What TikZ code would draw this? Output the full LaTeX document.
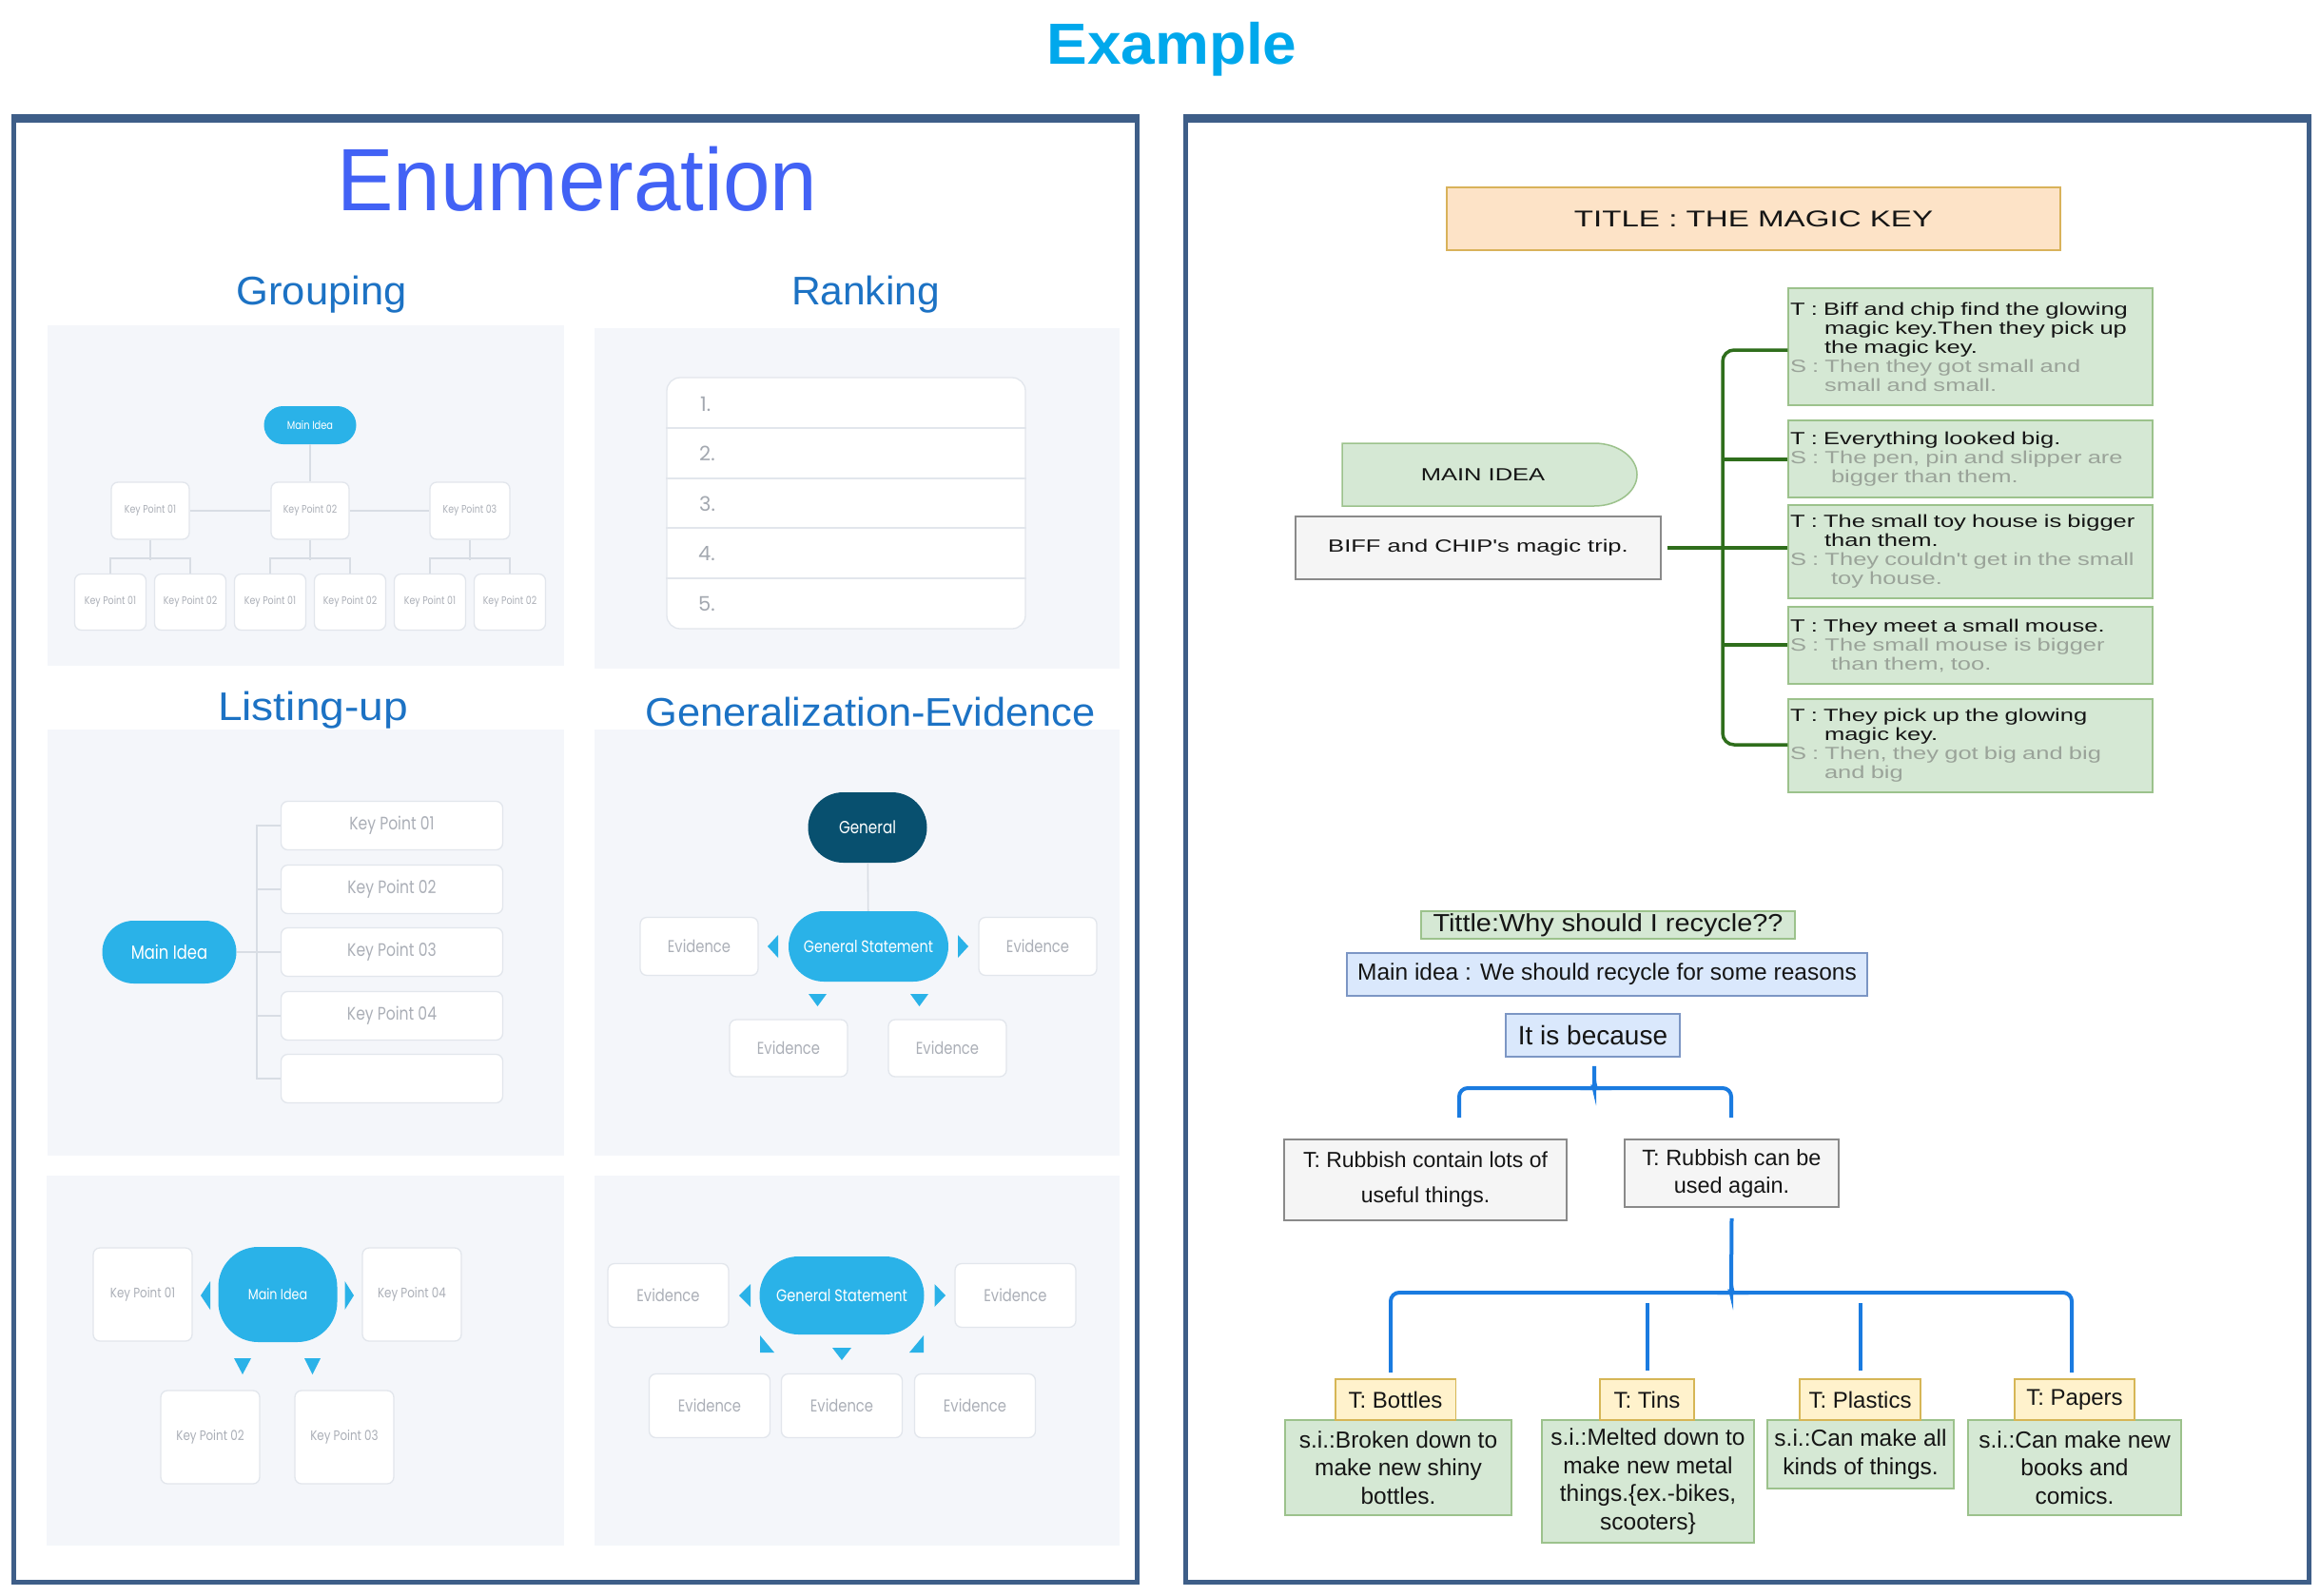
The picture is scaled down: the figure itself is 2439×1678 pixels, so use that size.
\documentclass[tikz,border=0pt]{standalone}
\usepackage{fontspec}
\usepackage{graphicx}
\setmainfont{Liberation Sans}
\newfontfamily\tplf{Poppins}[FakeStretch=0.82]
\newfontfamily\tpln{Poppins}
\newfontfamily\mkf{Liberation Sans}[FakeStretch=1.38]
\usetikzlibrary{calc}
\definecolor{framec}{HTML}{3E5E88}
\definecolor{exblue}{HTML}{00A8EC}
\definecolor{enblue}{HTML}{4262F5}
\definecolor{subblue}{HTML}{1C72C4}
\definecolor{panel}{HTML}{F4F6FA}
\definecolor{tline}{HTML}{E2E6EC}
\definecolor{ttext}{HTML}{ABAFB7}
\definecolor{numgray}{HTML}{A3A8B0}
\definecolor{cyanp}{HTML}{2AB2E8}
\definecolor{darkp}{HTML}{08506F}
\definecolor{conn}{HTML}{D8DDE4}
\definecolor{peach}{HTML}{FDE3C7}
\definecolor{peachb}{HTML}{D9B25A}
\definecolor{gfill}{HTML}{D5E8D4}
\definecolor{gline}{HTML}{9CC28C}
\definecolor{mgreen}{HTML}{2F6E1C}
\definecolor{sgray}{HTML}{9AA399}
\definecolor{bfill}{HTML}{DAE8FC}
\definecolor{bline}{HTML}{7C96C4}
\definecolor{gyfill}{HTML}{F5F5F5}
\definecolor{gyline}{HTML}{8A8A8A}
\definecolor{yfill}{HTML}{FFF2CC}
\definecolor{yline}{HTML}{D6B656}
\definecolor{rblue}{HTML}{1A7BE0}
\definecolor{ink}{HTML}{151515}
\newcommand\fitto[2]{\resizebox{#1}{\height}{#2}}
\newcommand\fs[2]{\fontsize{#1}{#2}\selectfont}
\begin{document}
\begin{tikzpicture}[x=1pt,y=-1pt,
  sz/.style 2 args={minimum width=#1pt, minimum height=#2pt},
  tb/.style={draw=tline, fill=white, rounded corners=7pt, line width=1.3pt, inner sep=0pt, text=ttext},
  pl/.style={fill=cyanp, rounded corners=#1, inner sep=0pt, text=white},
  cn/.style={draw=conn, line width=1.6pt},
  ttl/.style={anchor=base, text=subblue, font=\fs{42}{44}, inner sep=0pt},
  gbox/.style={draw=gline, fill=gfill, line width=1.5pt},
  mk/.style={font=\mkf\fs{18.5}{20}, text=ink},
  rc/.style={font=\fs{24}{28}, text=ink, inner sep=0pt},
  rb/.style={draw=rblue, line width=4pt, rounded corners=9pt},
  mg/.style={draw=mgreen, line width=3.5pt}
]
\useasboundingbox (0,0) rectangle (2439,1678);
\fill[white] (0,0) rectangle (2439,1678);

% ---------- header ----------
\node[anchor=base, text=exblue, font=\bfseries\fs{61}{61}, inner sep=0pt] (ex) at (1232,67) {\fitto{263pt}{Example}};

% ---------- frames ----------
\draw[framec, line width=5pt] (14.5,123.5) rectangle (1195.5,1663.5);
\fill[framec] (12,120) rectangle (1198,129);
\draw[framec, line width=5pt] (1246.5,123.5) rectangle (2427.5,1663.5);
\fill[framec] (1244,120) rectangle (2430,129);

% ---------- left titles ----------
\node[anchor=base, text=enblue, font=\fs{93}{93}, inner sep=0pt] (enum) at (607,221) {\fitto{505pt}{Enumeration}};
\node[ttl] (tgroup) at (338,320) {\fitto{179pt}{Grouping}};
\node[ttl] (trank) at (910,320) {\fitto{156pt}{Ranking}};
\node[ttl] (tlist) at (329,757) {\fitto{200pt}{Listing-up}};
\node[ttl] (tgen) at (915,763) {\fitto{473pt}{Generalization-Evidence}};

% ---------- Grouping ----------
\fill[panel] (50,342) rectangle (593,700);
\node[pl=20pt, sz={97}{40}, font=\tplf\fs{12}{14}] (gmain) at (326,447) {Main Idea};
\begin{scope}[every node/.style={tb, font=\tplf\fs{11.5}{13}}]
\node[sz={82}{60}] (gk1) at (158,537) {Key Point 01};
\node[sz={82}{60}] (gk2) at (326,537) {Key Point 02};
\node[sz={84}{60}] (gk3) at (494,537) {Key Point 03};
\node[sz={75}{59}] (gl1) at (116,633) {Key Point 01};
\node[sz={75}{59}] (gl2) at (200,633) {Key Point 02};
\node[sz={75}{59}] (gl3) at (284,633) {Key Point 01};
\node[sz={75}{59}] (gl4) at (368,633) {Key Point 02};
\node[sz={75}{59}] (gl5) at (452,633) {Key Point 01};
\node[sz={75}{59}] (gl6) at (536,633) {Key Point 02};
\end{scope}
\draw[cn] (gmain) -- (gk2);
\draw[cn] (gk1) -- (gk2);
\draw[cn] (gk2) -- (gk3);
\draw[cn] (gk1.south) -- ++(0,21);
\draw[cn] (gk2.south) -- ++(0,21);
\draw[cn] (gk3.south) -- ++(0,21);
\draw[cn] (gl1.north) -- ++(0,-16) -| (gl2.north);
\draw[cn] (gl3.north) -- ++(0,-16) -| (gl4.north);
\draw[cn] (gl5.north) -- ++(0,-16) -| (gl6.north);

% ---------- Ranking ----------
\fill[panel] (625,345) rectangle (1177,703);
\node[tb, rounded corners=14pt, sz={377}{264}] (rlist) at (889.5,529) {};
\foreach \yy in {450,503,555,608} \draw[tline, line width=1.3pt] (rlist.west |- 0,\yy) -- (rlist.east |- 0,\yy);
\begin{scope}[every node/.style={anchor=west, text=numgray, font=\tpln\fs{21}{22}, inner sep=0pt}]
\node (r1) at (736,425) {1.};
\node (r2) at (735,477) {2.};
\node (r3) at (735,530) {3.};
\node (r4) at (734,582) {4.};
\node (r5) at (734,635) {5.};
\end{scope}

% ---------- Listing-up ----------
\fill[panel] (50,767) rectangle (593,1215);
\node[pl=33pt, sz={141}{66}, font=\tplf\fs{20}{22}] (lmain) at (178,1001) {Main Idea};
\begin{scope}[every node/.style={tb, sz={233}{51}, font=\tplf\fs{19}{21}}]
\node (lk1) at (412,868) {Key Point 01};
\node (lk2) at (412,935) {Key Point 02};
\node (lk3) at (412,1001) {Key Point 03};
\node (lk4) at (412,1068) {Key Point 04};
\node (lk5) at (412,1134) {};
\end{scope}
\coordinate (ltop) at (270,868);
\coordinate (lbot) at (270,1134);
\draw[cn] (lk1.west) -- (ltop) -- (lbot) -- (lk5.west);
\draw[cn] (lk2.west) -- (lk2.west -| ltop);
\draw[cn] (lk4.west) -- (lk4.west -| ltop);
\draw[cn] (lmain.east) -- (lk3.west);

% ---------- Generalization-Evidence ----------
\fill[panel] (625,767) rectangle (1177,1215);
\node[pl=37pt, fill=darkp, sz={125}{74}, font=\tplf\fs{18.5}{20}] (gen) at (912,870) {General};
\node[pl=37pt, sz={168}{74}, font=\tplf\fs{17.5}{20}] (gst) at (913,995) {General Statement};
\begin{scope}[every node/.style={tb, font=\tplf\fs{18}{20}}]
\node[sz={124}{61}] (ge1) at (735,995) {Evidence};
\node[sz={124}{61}] (ge2) at (1091,995) {Evidence};
\node[sz={124}{60}] (ge3) at (829,1102) {Evidence};
\node[sz={124}{60}] (ge4) at (996,1102) {Evidence};
\end{scope}
\draw[cn] (gen) -- (gst);
\fill[cyanp] (818,983) -- (818,1007) -- (807,995) -- cycle;
\fill[cyanp] (1007,983) -- (1007,1007) -- (1018,995) -- cycle;
\fill[cyanp] (850,1045) -- (869,1045) -- (859.5,1058) -- cycle;
\fill[cyanp] (957,1045) -- (976,1045) -- (966.5,1058) -- cycle;

% ---------- bottom-left ----------
\fill[panel] (49,1236) rectangle (593,1625);
\node[pl=42pt, sz={125}{100}, font=\tplf\fs{15.5}{18}] (bmain) at (292,1361) {Main Idea};
\begin{scope}[every node/.style={tb, sz={104}{98}, font=\tplf\fs{14.5}{17}}]
\node (bk1) at (150,1361) {Key Point 01};
\node (bk4) at (433,1361) {Key Point 04};
\node (bk2) at (221,1511) {Key Point 02};
\node (bk3) at (362,1511) {Key Point 03};
\end{scope}
\fill[cyanp] (221,1347) -- (221,1377) -- (211,1362) -- cycle;
\fill[cyanp] (362.5,1347) -- (362.5,1377) -- (372,1362) -- cycle;
\fill[cyanp] (246,1428) -- (264,1428) -- (255,1445) -- cycle;
\fill[cyanp] (320,1428) -- (337,1428) -- (328.5,1445) -- cycle;

% ---------- bottom-right ----------
\fill[panel] (625,1236) rectangle (1177,1625);
\node[pl=41pt, sz={173}{82}, font=\tplf\fs{17.7}{20}] (bgs) at (885,1362) {General Statement};
\begin{scope}[every node/.style={tb, sz={127}{67}, font=\tplf\fs{18}{20}}]
\node (be1) at (702.5,1362) {Evidence};
\node (be2) at (1067.5,1362) {Evidence};
\node (be3) at (746,1478) {Evidence};
\node (be4) at (885,1478) {Evidence};
\node (be5) at (1025,1478) {Evidence};
\end{scope}
\fill[cyanp] (789,1350) -- (789,1374) -- (777,1362) -- cycle;
\fill[cyanp] (982.5,1350) -- (982.5,1374) -- (994,1362) -- cycle;
\fill[cyanp] (875,1417) -- (895,1417) -- (885,1430) -- cycle;
\fill[cyanp] (799,1404) -- (799,1422) -- (814,1422) -- cycle;
\fill[cyanp] (971,1404) -- (971,1422) -- (956,1422) -- cycle;

% ---------- Magic key chart ----------
\node[draw=peachb, fill=peach, line width=1.5pt, sz={645}{66}, mk, font=\mkf\fs{24}{26}] (mtitle) at (1843.5,230) {TITLE : THE MAGIC KEY};
\filldraw[fill=gfill, draw=gline, line width=1.5pt] (1411,466) -- (1676,466) arc[start angle=90, end angle=-90, x radius=45pt, y radius=33pt] -- (1411,532) -- cycle;
\node[mk] (mainidea) at (1559,499) {MAIN IDEA};
\node[draw=gyline, fill=gyfill, line width=1.5pt, sz={384}{66}, mk] (biff) at (1554,576) {BIFF and CHIP's magic trip.};
\begin{scope}[every node/.style={gbox, mk, minimum width=383pt, text width=379pt, inner xsep=2pt, inner ysep=0pt, align=left}]
\node[minimum height=123pt] (mb1) at (2071.5,364.5) {T : Biff and chip find the glowing\\\hspace*{36pt}magic key.Then they pick up\\\hspace*{36pt}the magic key.\\\color{sgray}S : Then they got small and\\\hspace*{36pt}small and small.};
\node[minimum height=81pt] (mb2) at (2071.5,482.5) {T : Everything looked big.\\\color{sgray}S : The pen, pin and slipper are\\\hspace*{43pt}bigger than them.};
\node[minimum height=98pt] (mb3) at (2071.5,580) {T : The small toy house is bigger\\\hspace*{36pt}than them.\\\color{sgray}S : They couldn't get in the small\\\hspace*{43pt}toy house.};
\node[minimum height=81pt] (mb4) at (2071.5,678.5) {T : They meet a small mouse.\\\color{sgray}S : The small mouse is bigger\\\hspace*{43pt}than them, too.};
\node[minimum height=98pt] (mb5) at (2071.5,784) {T : They pick up the glowing\\\hspace*{36pt}magic key.\\\color{sgray}S : Then, they got big and big\\\hspace*{36pt}and big};
\end{scope}
\coordinate (tr1) at (1811,368);
\coordinate (tr2) at (1811,483);
\coordinate (tr4) at (1811,678);
\coordinate (tr5) at (1811,783);
\draw[mg, rounded corners=12pt] (mb1.west |- tr1) -- (tr1) -- (tr5) -- (mb5.west |- tr5);
\draw[mg] (tr2) -- (mb2.west |- tr2);
\draw[mg] ([xshift=6pt]biff.east) -- (mb3.west |- biff.east);
\draw[mg] (tr4) -- (mb4.west |- tr4);

% ---------- Recycle chart ----------
\node[gbox, sz={393}{29}, rc, font=\fs{26}{28}] (rtitle) at (1690.5,972.5) {\fitto{368pt}{Tittle:Why should I recycle??}};
\node[draw=bline, fill=bfill, line width=1.5pt, sz={547}{45}, rc, font=\fs{24.5}{28}] (rmain) at (1689.5,1024.5) {Main idea : We should recycle for some reasons};
\node[draw=bline, fill=bfill, line width=1.5pt, sz={183}{45}, rc, font=\fs{28}{30}] (rbec) at (1674.5,1088.5) {It is because};
\node[draw=gyline, fill=gyfill, line width=1.5pt, sz={297}{85}, rc, align=center, font=\fs{23}{37}] (rub1) at (1498.5,1240.5) {T: Rubbish contain lots of\\useful things.};
\node[draw=gyline, fill=gyfill, line width=1.5pt, sz={225}{71}, rc, align=center, font=\fs{23.5}{29}] (rub2) at (1820.5,1233.5) {T: Rubbish can be\\used again.};

\coordinate (b1l) at (1534,1175);
\coordinate (b1r) at (1820,1175);
\draw[rb] (b1l) -- (1534,1144) -- (1668,1144) to[out=0,in=-90] (1676,1136) -- ([yshift=-9pt]rbec.south -| 1676,0);
\draw[rb] (b1r) -- (1820,1144) -- (1684,1144) to[out=180,in=-90] (1676,1136);

\begin{scope}[every node/.style={gbox, rc, align=center, font=\fs{24.5}{29.5}}]
\node[sz={238}{100}] (gbot) at (1470,1543) {s.i.:Broken down to\\make new shiny\\bottles.};
\node[sz={223}{129}] (gtin) at (1732.5,1557.5) {s.i.:Melted down to\\make new metal\\things.\{ex.-bikes,\\scooters\}};
\node[sz={196}{72}] (gpla) at (1956,1529) {s.i.:Can make all\\kinds of things.};
\node[sz={224}{100}] (gpap) at (2181,1543) {s.i.:Can make new\\books and\\comics.};
\end{scope}
\begin{scope}[every node/.style={draw=yline, fill=yfill, line width=1.5pt, rc, minimum height=43pt}]
\node[minimum width=126.5pt] (ybot) at (1467,1471.5) {T: Bottles};
\node[minimum width=99pt] (ytin) at (1731.5,1471.5) {T: Tins};
\node[minimum width=127pt] (ypla) at (1955.5,1471.5) {T: Plastics};
\node[minimum width=126pt] (ypap) at (2181,1471.5) {T: Papers};
\end{scope}

\coordinate (t2l) at (1462,1443);
\coordinate (t2r) at (2178,1443);
\draw[rb] (t2l) -- (1462,1359) -- (1812,1359) to[out=0,in=-90] (1820,1351) -- ([yshift=-11pt]rub2.south);
\draw[rb] (t2r) -- (2178,1359) -- (1828,1359) to[out=180,in=-90] (1820,1351);
\draw[rblue, line width=4pt] ([yshift=8pt]ytin.north) -- ++(0,-71);
\draw[rblue, line width=4pt] ([yshift=8pt]ypla.north) -- ++(0,-71);
\end{tikzpicture}
\end{document}
